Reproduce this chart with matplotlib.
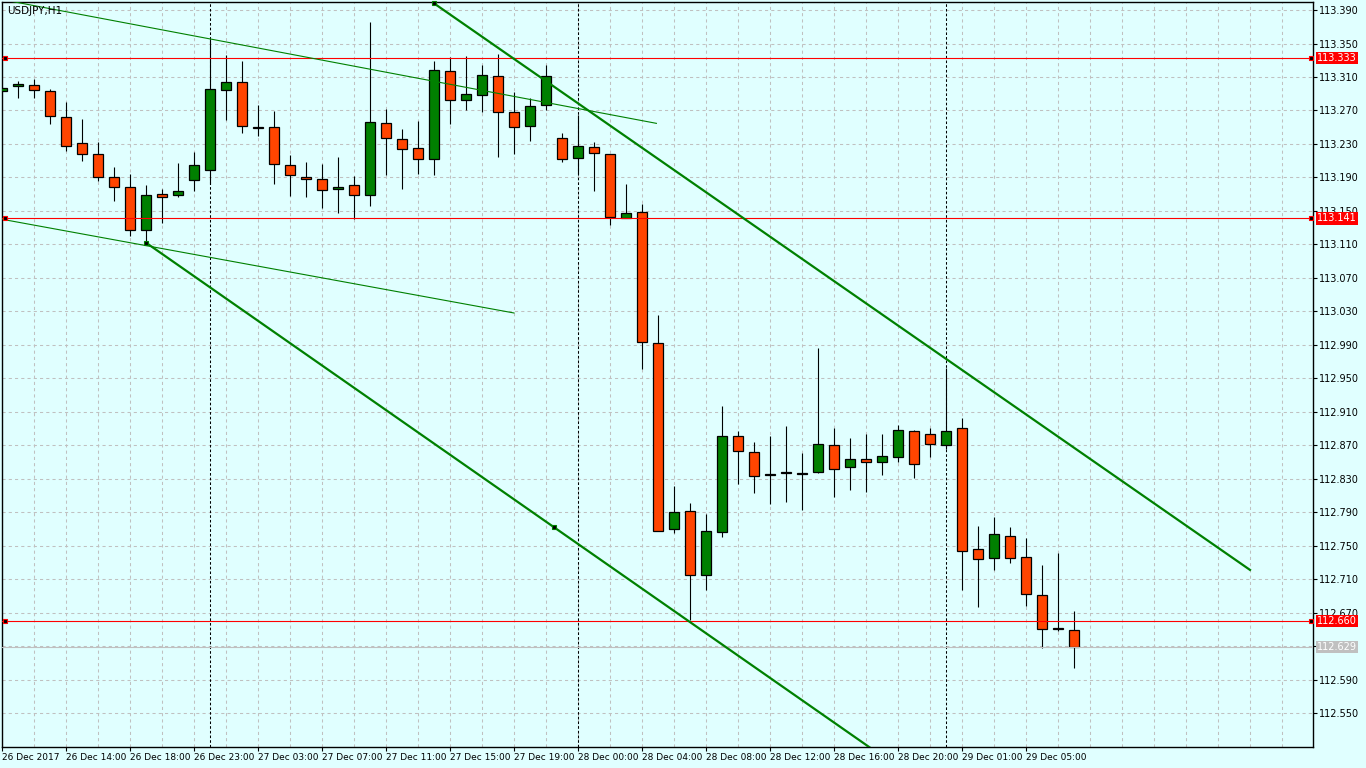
import numpy as np
import matplotlib
matplotlib.use("Agg")
import matplotlib.pyplot as plt
from matplotlib.ticker import MultipleLocator, FixedLocator, FuncFormatter

symbol = "USDJPY,H1"

# hourly bars, oldest first
opens = [113.293, 113.299, 113.301, 113.293, 113.262, 113.231, 113.218, 113.190, 113.179, 113.127,
         113.170, 113.169, 113.187, 113.199, 113.294, 113.304, 113.249, 113.250, 113.205, 113.190,
         113.188, 113.176, 113.181, 113.169, 113.255, 113.236, 113.225, 113.212, 113.317, 113.282,
         113.289, 113.311, 113.268, 113.251, 113.276, 113.237, 113.213, 113.226, 113.218, 113.142,
         113.149, 112.992, 112.770, 112.791, 112.715, 112.766, 112.881, 112.862, 112.834, 112.837,
         112.836, 112.838, 112.870, 112.844, 112.854, 112.850, 112.856, 112.887, 112.884, 112.870,
         112.891, 112.746, 112.735, 112.762, 112.736, 112.691, 112.652, 112.649]
highs = [113.298, 113.305, 113.308, 113.296, 113.280, 113.260, 113.232, 113.202, 113.194, 113.181,
         113.176, 113.207, 113.220, 113.355, 113.336, 113.329, 113.276, 113.269, 113.217, 113.208,
         113.206, 113.214, 113.192, 113.376, 113.272, 113.248, 113.257, 113.329, 113.334, 113.335,
         113.324, 113.337, 113.292, 113.285, 113.324, 113.243, 113.264, 113.232, 113.218, 113.182,
         113.158, 113.025, 112.821, 112.801, 112.788, 112.917, 112.887, 112.874, 112.881, 112.893,
         112.861, 112.986, 112.890, 112.879, 112.883, 112.883, 112.894, 112.888, 112.890, 112.962,
         112.902, 112.774, 112.784, 112.772, 112.759, 112.727, 112.741, 112.672]
lows = [113.292, 113.285, 113.285, 113.254, 113.222, 113.210, 113.186, 113.162, 113.120, 113.112,
        113.136, 113.167, 113.174, 113.182, 113.259, 113.243, 113.239, 113.182, 113.168, 113.166,
        113.154, 113.148, 113.140, 113.156, 113.193, 113.176, 113.194, 113.193, 113.254, 113.271,
        113.268, 113.214, 113.218, 113.233, 113.271, 113.209, 113.194, 113.174, 113.133, 113.142,
        112.961, 112.767, 112.765, 112.661, 112.697, 112.760, 112.824, 112.813, 112.800, 112.802,
        112.792, 112.837, 112.808, 112.817, 112.814, 112.835, 112.850, 112.831, 112.856, 112.866,
        112.697, 112.677, 112.721, 112.729, 112.678, 112.628, 112.648, 112.604]
closes = [113.297, 113.302, 113.294, 113.263, 113.228, 113.218, 113.191, 113.178, 113.127, 113.169,
          113.167, 113.174, 113.205, 113.296, 113.304, 113.251, 113.249, 113.206, 113.193, 113.188,
          113.175, 113.179, 113.169, 113.256, 113.237, 113.224, 113.212, 113.318, 113.283, 113.290,
          113.312, 113.268, 113.250, 113.275, 113.311, 113.212, 113.228, 113.219, 113.143, 113.148,
          112.993, 112.768, 112.790, 112.715, 112.767, 112.881, 112.863, 112.833, 112.836, 112.837,
          112.836, 112.871, 112.842, 112.853, 112.850, 112.857, 112.888, 112.848, 112.871, 112.887,
          112.744, 112.734, 112.764, 112.735, 112.692, 112.650, 112.650, 112.629]

time_labels = ["26 Dec 2017", "26 Dec 14:00", "26 Dec 18:00", "26 Dec 23:00", "27 Dec 03:00",
               "27 Dec 07:00", "27 Dec 11:00", "27 Dec 15:00", "27 Dec 19:00", "28 Dec 00:00",
               "28 Dec 04:00", "28 Dec 08:00", "28 Dec 12:00", "28 Dec 16:00", "28 Dec 20:00",
               "29 Dec 01:00", "29 Dec 05:00"]
day_starts = [13, 36, 59]  # bar index of 00:00

hlines = [113.333, 113.141, 112.660]
bid = 112.629

# trend lines as (bar, price) anchor pairs
thin_lines = [((0, 113.4025), (40.9, 113.2546)),
              ((0, 113.140), (32, 113.028))]
channel_low = ((9, 113.112), (34.5, 112.772))
channel_high = ((27, 113.398), (78, 112.721))

BG = "#E0FFFF"
BULL = "#008000"
BEAR = "#FF4500"
GRID = "#C0C0C0"

fig = plt.figure(figsize=(13.66, 7.68), dpi=100, facecolor=BG)
ax = fig.add_axes([2 / 1366, 21 / 768, 1311 / 1366, 745 / 768], facecolor=BG)

x_max = 1311 / 16
ax.set_xlim(0, x_max)
ax.set_ylim(112.5094, 113.3996)

idx = np.arange(len(opens))
o = np.array(opens)
c = np.array(closes)
h = np.array(highs)
l = np.array(lows)

# grid
y_ticks = np.arange(112.55, 113.40, 0.04)
ax.yaxis.tick_right()
ax.set_yticks(y_ticks)
ax.yaxis.set_major_formatter(FuncFormatter(lambda v, p: f"{v:.3f}"))
ax.xaxis.set_major_locator(FixedLocator(list(range(0, 4 * len(time_labels), 4))))
ax.set_xticklabels(time_labels, ha="left")
ax.xaxis.set_minor_locator(MultipleLocator(2))
ax.grid(True, which="both", color=GRID, lw=0.75, ls=(0, (3, 3)), zorder=0)
ax.set_axisbelow(True)

for d in day_starts:
    ax.axvline(d, color="black", lw=0.75, ls=(0, (2.5, 2)), zorder=1)

# candles
ax.vlines(idx, l, h, color="black", lw=0.8, zorder=2)
colors = np.where(c > o, BULL, BEAR)
bottoms = np.minimum(o, c)
heights = np.maximum(np.abs(c - o), 0.0008)
ax.bar(idx, heights, bottom=bottoms, width=0.62, color=colors,
       edgecolor="black", lw=0.9, zorder=3)

# horizontal levels
for lv in hlines:
    ax.axhline(lv, color="#FF0000", lw=0.8, zorder=4)
    ax.plot([0.2], [lv], "s", ms=3.5, mfc="black", mec="red", mew=0.8, zorder=6, clip_on=False)
    ax.plot([x_max - 0.15], [lv], "s", ms=3.5, mfc="black", mec="red", mew=0.8, zorder=6, clip_on=False)
    ax.text(1.0032, lv, f"{lv:.3f}", transform=ax.get_yaxis_transform(), color="white",
            fontsize=7, va="center", ha="left", zorder=7, clip_on=False,
            bbox=dict(boxstyle="square,pad=0.12", fc="#FF0000", ec="none"))

ax.axhline(bid, color="#C0C0C0", lw=0.8, zorder=4)
ax.text(1.0032, bid, f"{bid:.3f}", transform=ax.get_yaxis_transform(), color="white",
        fontsize=7, va="center", ha="left", zorder=7, clip_on=False,
        bbox=dict(boxstyle="square,pad=0.12", fc="#C0C0C0", ec="none"))

# trend lines
for (x0, y0), (x1, y1) in thin_lines:
    ax.plot([x0, x1], [y0, y1], color=BULL, lw=0.8, zorder=5)

(x0, y0), (x1, y1) = channel_low
slope = (y1 - y0) / (x1 - x0)
ax.plot([x0, x_max], [y0, y0 + slope * (x_max - x0)], color=BULL, lw=1.6, zorder=5)
ax.plot([x0, x1], [y0, y1], "s", ms=3.5, mfc="black", mec=BULL, mew=0.8, zorder=6)

(x0, y0), (x1, y1) = channel_high
ax.plot([x0, x1], [y0, y1], color=BULL, lw=1.6, zorder=5)
ax.plot([x0], [y0], "s", ms=3.5, mfc="black", mec=BULL, mew=0.8, zorder=6, clip_on=False)

ax.text(0.004, 0.995, symbol, transform=ax.transAxes, fontsize=7.5, va="top", ha="left", zorder=8)

ax.tick_params(axis="y", which="major", direction="out", length=3, width=0.8,
               labelsize=7, pad=1, colors="black")
ax.tick_params(axis="x", which="major", direction="out", length=3, width=0.8,
               labelsize=6.5, pad=1, colors="black")
ax.tick_params(axis="x", which="minor", length=0)
for s in ax.spines.values():
    s.set_color("black")
    s.set_linewidth(1)

fig.savefig("out.png", dpi=100, facecolor=BG)
